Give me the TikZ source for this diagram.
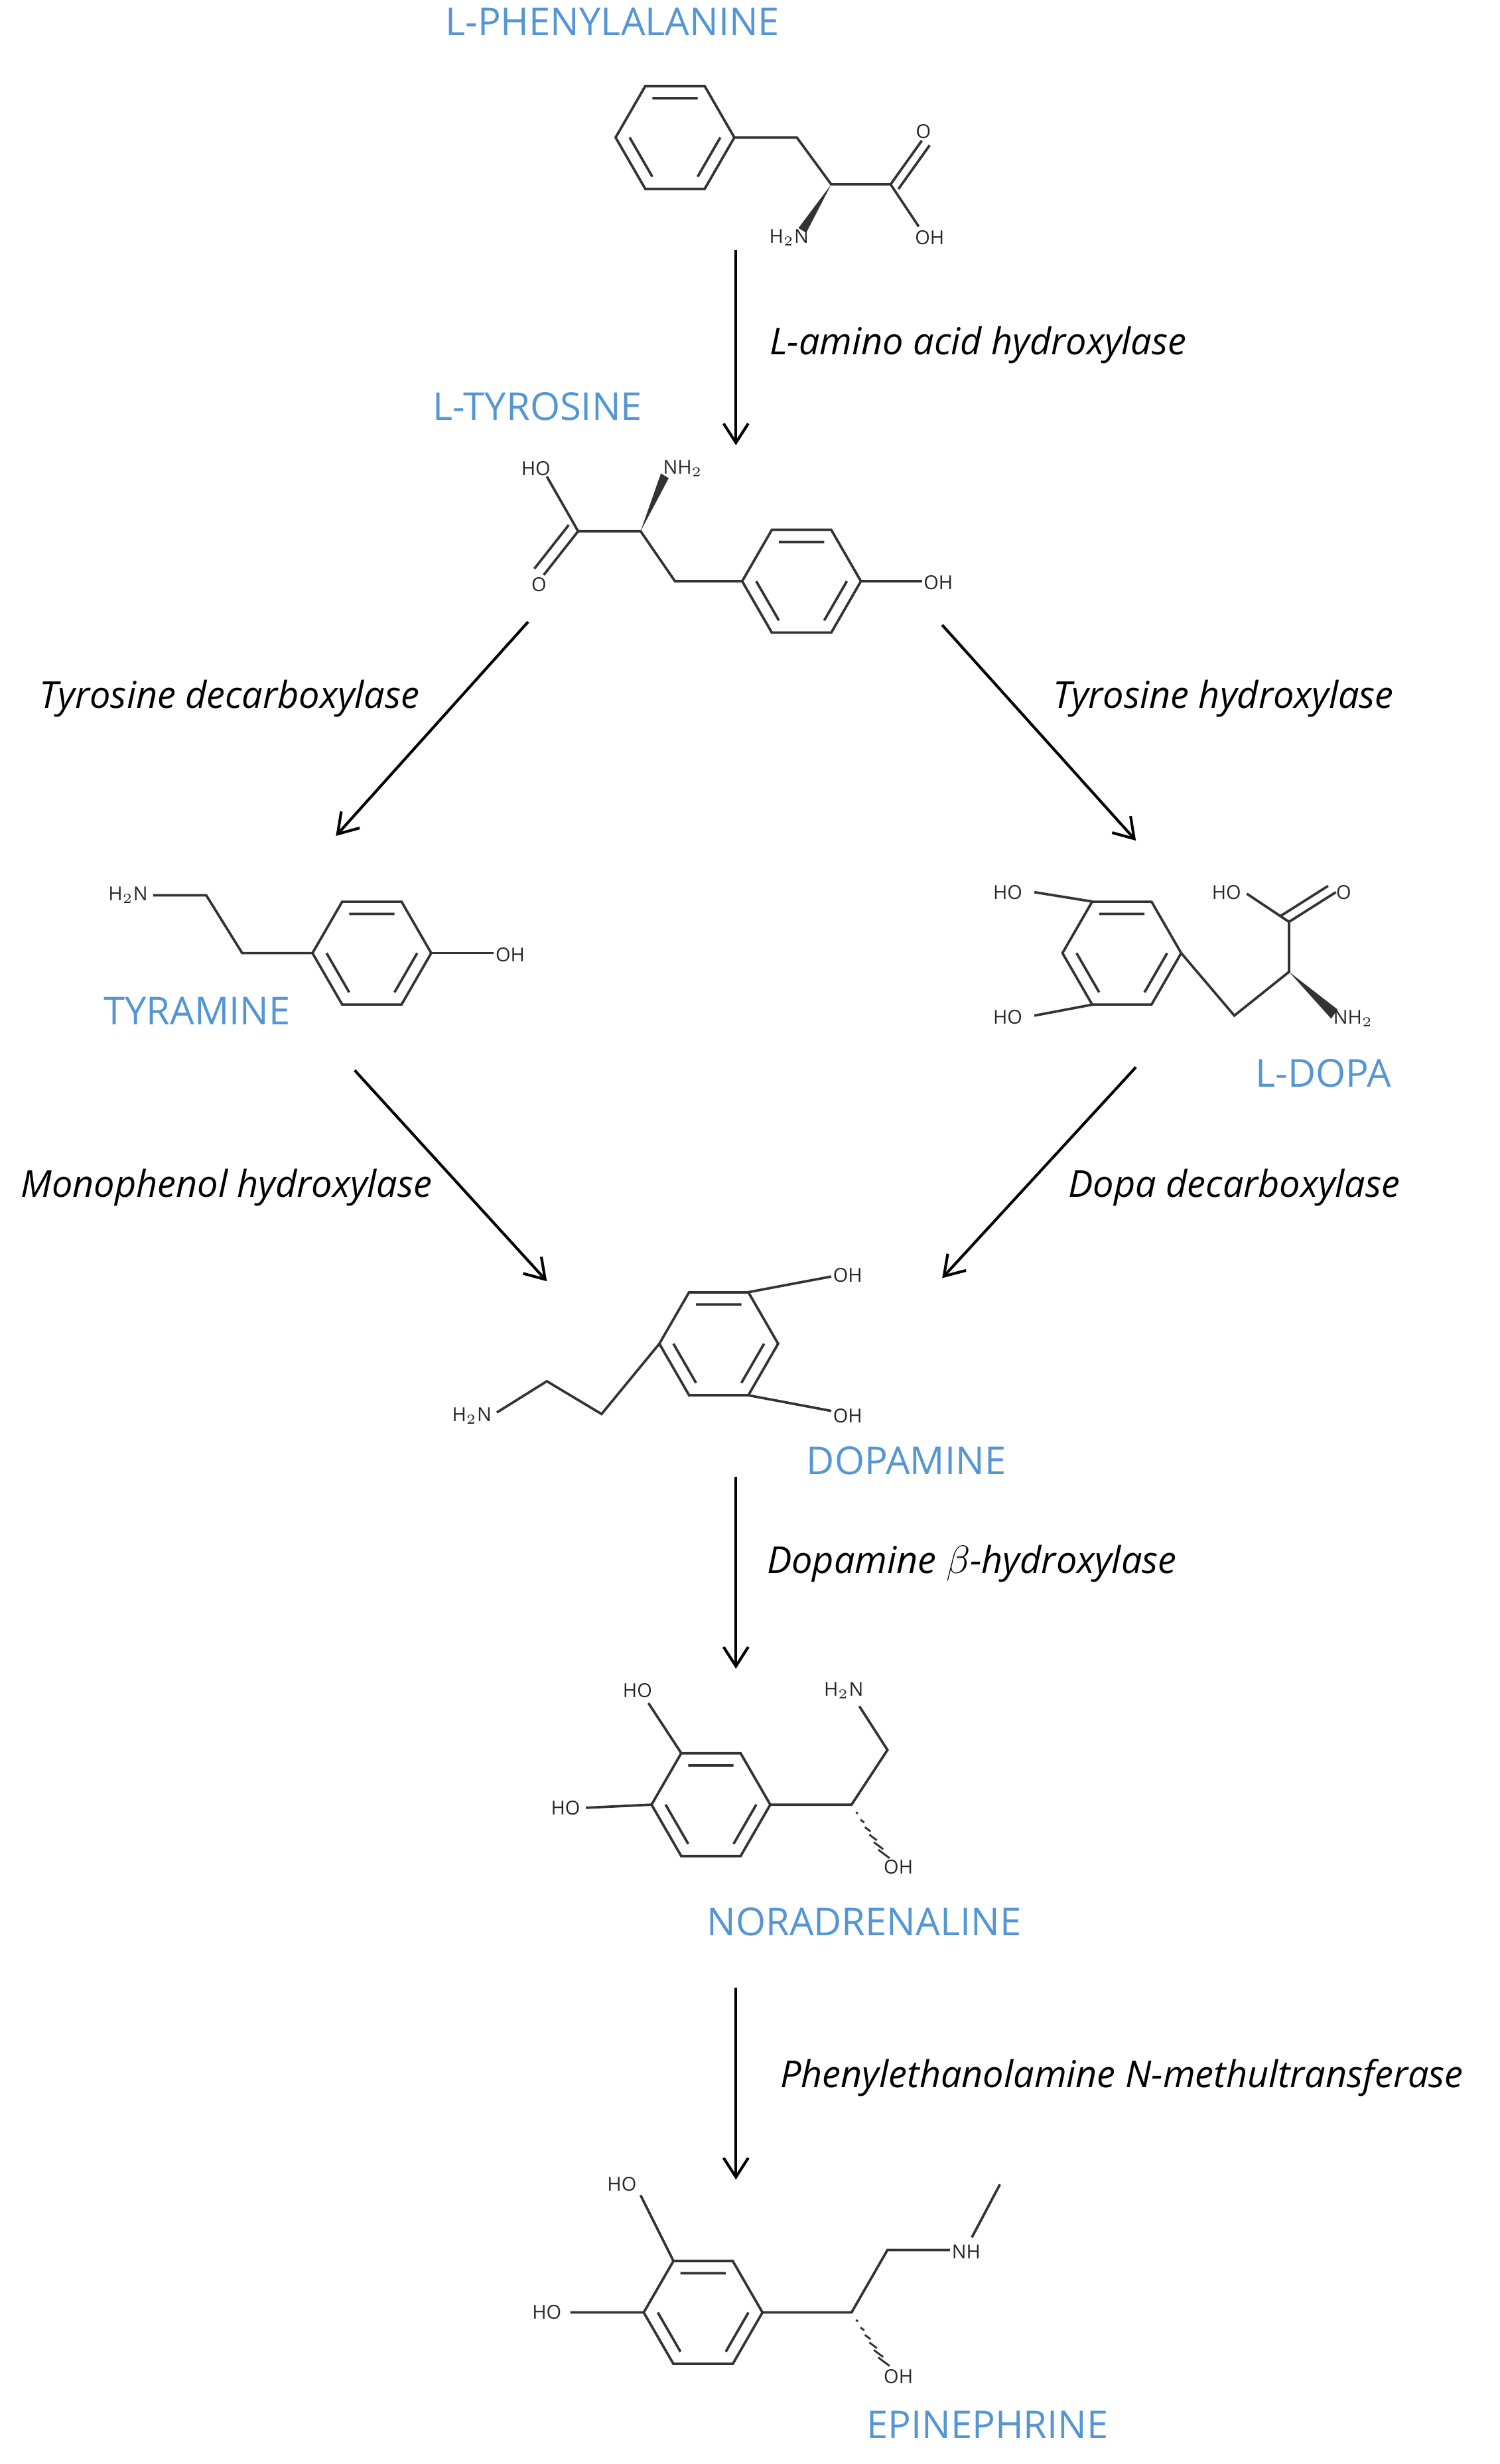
\documentclass[tikz,border=0pt]{standalone}
\usepackage{fontspec}
\setmainfont{Open Sans}
\usetikzlibrary{arrows.meta,calc}
\definecolor{lblue}{RGB}{84,150,212}
\begin{document}
\begin{tikzpicture}[x=0.02cm,y=-0.02cm,
 mol/.style={draw=black!80,line width=0.9pt},
 lab/.style={text=lblue,font=\fontsize{14}{16}\selectfont,inner sep=0},
 enz/.style={font=\fontsize{13.5}{16}\selectfont\itshape,inner sep=0},
 atm/.style={font=\fontsize{7}{8}\selectfont,inner sep=0.5pt,text=black!85},
 arr/.style={-{Straight Barb[length=7pt,width=9pt]},line width=1pt},
 ring/.pic={
  \draw[mol] (0:38)--(60:38)--(120:38)--(180:38)--(240:38)--(300:38)--cycle;
  \draw[mol] (0:29)--(60:29) (120:29)--(180:29) (240:29)--(300:29);
 }]
\useasboundingbox (0,0) rectangle (960,1577);
% ---------- labels
\node[lab] (phe) at (392,14) {L-PHENYLALANINE};
\node[lab] (tyr) at (344,260) {L-TYROSINE};
\node[lab] (tya) at (126,647) {TYRAMINE};
\node[lab] (dopa) at (847,687) {L-DOPA};
\node[lab] (dop) at (580,935) {DOPAMINE};
\node[lab] (nor) at (553,1230) {NORADRENALINE};
\node[lab] (epi) at (632,1552) {EPINEPHRINE};
% ---------- enzymes
\node[enz] (e1) at (626,221) {L-amino acid hydroxylase};
\node[enz] (e2) at (147,447) {Tyrosine decarboxylase};
\node[enz] (e3) at (783,447) {Tyrosine hydroxylase};
\node[enz] (e4) at (145,760) {Monophenol hydroxylase};
\node[enz] (e5) at (790,760) {Dopa decarboxylase};
\node[enz] (e6) at (622,1001) {Dopamine $\beta$-hydroxylase};
\node[enz] (e7) at (718,1330) {Phenylethanolamine N-methultransferase};
% ---------- arrows
\coordinate (a1) at (471,160); \coordinate (b1) at (471,285);
\coordinate (a2) at (338,398); \coordinate (b2) at (215,535);
\coordinate (a3) at (603,400); \coordinate (b3) at (727,538);
\coordinate (a4) at (227,685); \coordinate (b4) at (350,820);
\coordinate (a5) at (727,683); \coordinate (b5) at (603,818);
\coordinate (a6) at (471,945); \coordinate (b6) at (471,1068);
\coordinate (a7) at (471,1272); \coordinate (b7) at (471,1395);
\foreach \i in {1,...,7} \draw[arr] (a\i) -- (b\i);
% ---------- phenylalanine
\pic at (432,88) {ring};
\draw[mol] (470,88)--(510,88)--(532,118)--(570,118)--(590,90);
\draw[mol] (575,121)--(595,93);
\draw[mol] (570,118)--(588,145);
\fill[black!80] (532,118)--(511,146)--(516,149)--cycle;
\node[atm] (phO) at (591,84) {O};
\node[atm] (phOH) at (595,152) {OH};
\node[atm] (phN) at (505,152) {H$_2$N};
% ---------- tyrosine
\pic at (513,372) {ring};
\draw[mol] (551,372)--(590,372);
\node[atm,anchor=west] (tyOH) at (590,373) {OH};
\draw[mol] (475,372)--(432,372)--(410,340)--(370,340)--(350,305);
\draw[mol] (370,340)--(348,368) (364,336)--(342,364);
\fill[black!80] (410,340)--(428,306)--(423,303)--cycle;
\node[atm] (tyN) at (437,300) {NH$_2$};
\node[atm] (tyHO) at (343,300) {HO};
\node[atm] (tyO) at (345,374) {O};
% ---------- tyramine
\pic at (238,610) {ring};
\draw[mol] (276,610)--(316,610);
\node[atm,anchor=west] (tmOH) at (316,611) {OH};
\draw[mol] (200,610)--(155,610)--(132,573)--(98,573);
\node[atm] (tmN) at (82,573) {H$_2$N};
% ---------- L-DOPA
\pic at (718,610) {ring};
\draw[mol] (699,577)--(662,571) (699,643)--(662,650);
\node[atm] (ldHO1) at (645,571) {HO};
\node[atm] (ldHO2) at (645,651) {HO};
\draw[mol] (756,610)--(790,650)--(825,622)--(825,590)--(855,571);
\draw[mol] (820,586)--(850,567);
\draw[mol] (825,590)--(798,572);
\fill[black!80] (825,622)--(852,652)--(856,646)--cycle;
\node[atm] (ldHO3) at (785,571) {HO};
\node[atm] (ldO) at (860,571) {O};
\node[atm] (ldN) at (866,652) {NH$_2$};
% ---------- dopamine
\pic at (460,860) {ring};
\draw[mol] (479,827)--(532,817) (479,893)--(532,903);
\node[atm,anchor=west] (dpOH1) at (532,816) {OH};
\node[atm,anchor=west] (dpOH2) at (532,906) {OH};
\draw[mol] (422,860)--(385,905)--(350,884)--(318,904);
\node[atm] (dpN) at (302,906) {H$_2$N};
% ---------- noradrenaline
\pic at (455,1155) {ring};
\draw[mol] (436,1122)--(415,1090) (417,1155)--(375,1157);
\node[atm] (nHO1) at (408,1082) {HO};
\node[atm] (nHO2) at (362,1157) {HO};
\draw[mol] (493,1155)--(545,1155)--(568,1120)--(550,1092);
\node[atm] (nN) at (540,1082) {H$_2$N};
\foreach \t in {0.15,0.3,...,0.95}
  \draw[black!80,line width=0.7pt] ($(545,1155)!\t!(568,1190)+(-4*\t,-3*\t)$) -- ($(545,1155)!\t!(568,1190)+(4*\t,3*\t)$);
\node[atm] (nOH) at (575,1195) {OH};
% ---------- epinephrine
\pic at (450,1480) {ring};
\draw[mol] (431,1447)--(410,1405) (412,1480)--(365,1480);
\node[atm] (eHO1) at (398,1398) {HO};
\node[atm] (eHO2) at (350,1480) {HO};
\draw[mol] (488,1480)--(545,1480)--(568,1440)--(608,1440);
\node[atm,anchor=west] (eNH) at (608,1441) {NH};
\draw[mol] (622,1432)--(640,1398);
\foreach \t in {0.15,0.3,...,0.95}
  \draw[black!80,line width=0.7pt] ($(545,1480)!\t!(568,1515)+(-4*\t,-3*\t)$) -- ($(545,1480)!\t!(568,1515)+(4*\t,3*\t)$);
\node[atm] (eOH) at (575,1521) {OH};
\end{tikzpicture}
\end{document}
